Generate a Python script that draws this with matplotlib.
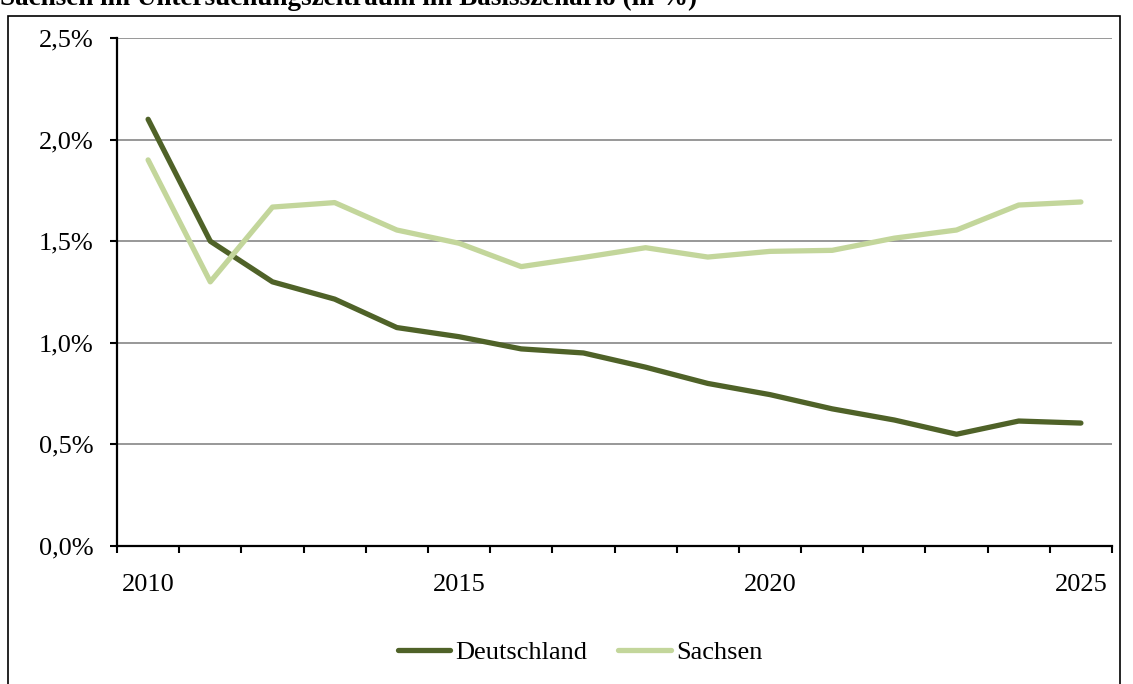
import numpy as np
import matplotlib
matplotlib.use('agg')
from matplotlib import pyplot as plt
from matplotlib.patches import Rectangle
from matplotlib.lines import Line2D

plt.rcParams['font.family'] = ['Liberation Serif', 'DejaVu Serif']

years = list(range(2010, 2026))
deutschland = [2.10, 1.50, 1.30, 1.215, 1.075, 1.03, 0.97, 0.95, 0.88, 0.80,
               0.745, 0.675, 0.62, 0.55, 0.615, 0.605]
sachsen = [1.90, 1.30, 1.668, 1.69, 1.555, 1.49, 1.375, 1.42, 1.468, 1.422,
           1.45, 1.455, 1.515, 1.555, 1.678, 1.693]
yticks = [0.0, 0.5, 1.0, 1.5, 2.0, 2.5]
xlabel_years = [2010, 2015, 2020, 2025]

dark = '#4F6228'
light = '#C3D69B'

W, H = 1133, 684
fig = plt.figure(figsize=(W / 100, H / 100), dpi=100)
ax = fig.add_axes([117 / W, (H - 546) / H, (1112 - 117) / W, (546 - 38) / H])

x = np.arange(len(years))
ax.plot(x, deutschland, color=dark, lw=3.8, solid_capstyle='round', zorder=3)
ax.plot(x, sachsen, color=light, lw=3.8, solid_capstyle='round', zorder=3)

ax.set_xlim(-0.5, len(years) - 0.5)
ax.set_ylim(0, 2.5)
ax.set_yticks(yticks)
ax.set_yticklabels([('%.1f%%' % v).replace('.', ',') for v in yticks], fontsize=19)
for v in yticks[1:]:
    ax.axhline(v, color='#868686', lw=1.2, zorder=1)

ax.set_xticks(np.arange(-0.5, len(years)))
ax.set_xticklabels([])
ax.set_xticks([years.index(y) for y in xlabel_years], minor=True)
ax.set_xticklabels([str(y) for y in xlabel_years], minor=True, fontsize=19)
ax.tick_params(axis='x', which='major', length=5, width=1.5, direction='out')
ax.tick_params(axis='x', which='minor', length=0, pad=20)
ax.tick_params(axis='y', length=5, width=1.5, direction='out', pad=12)

for s in ['top', 'right']:
    ax.spines[s].set_visible(False)
for s in ['left', 'bottom']:
    ax.spines[s].set_linewidth(1.6)
    ax.spines[s].set_zorder(4)

handles = [Line2D([], [], color=dark, lw=3.8, solid_capstyle='round'),
           Line2D([], [], color=light, lw=3.8, solid_capstyle='round')]
fig.legend(handles, ['Deutschland', 'Sachsen'], loc='center',
           bbox_to_anchor=(580 / W, (H - 652) / H), ncol=2, frameon=False,
           fontsize=19, handlelength=2.0, handletextpad=0.2, columnspacing=1.15)

fig.patches.append(Rectangle((8 / W, -0.1), (1120 - 8) / W, (H - 16) / H + 0.1,
                             transform=fig.transFigure, fill=False,
                             edgecolor='black', lw=1.2))

fig.text(0, (H - 5) / H, 'Sachsen im Untersuchungszeitraum im Basisszenario (in %)',
         fontsize=19.5, fontweight='bold', va='baseline', ha='left')

fig.savefig('out.png', dpi=100)
